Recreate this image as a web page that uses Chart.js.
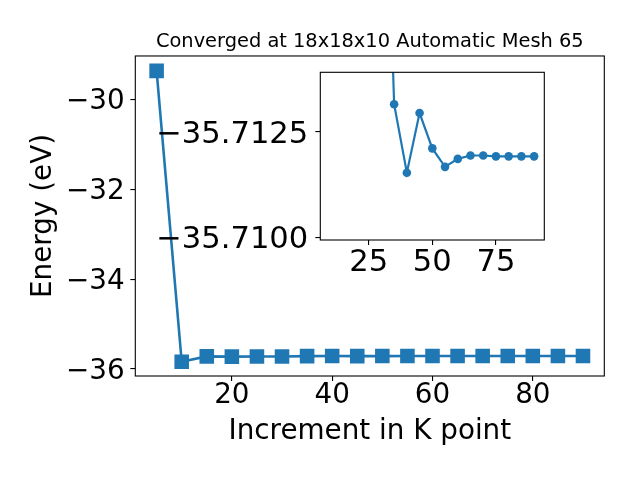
<!DOCTYPE html>
<html>
<head>
<meta charset="utf-8">
<script src="https://cdn.jsdelivr.net/npm/chart.js@4/dist/chart.umd.min.js"></script>
<style>
  html, body { margin: 0; padding: 0; background: #ffffff; }
  #wrap { position: relative; width: 640px; height: 480px; }
  #wrap canvas { position: absolute; left: 0; top: 0; }
</style>
</head>
<body>
<div id="wrap">
  <canvas id="main" width="640" height="480"></canvas>
  <canvas id="inset" width="640" height="480"></canvas>
</div>
<script>
// ---- data ----
const titleText = "Converged at 18x18x10 Automatic Mesh 65";
const xLabel = "Increment in K point";
const yLabel = "Energy (eV)";
const kPoints = [5, 10, 15, 20, 25, 30, 35, 40, 45, 50, 55, 60, 65, 70, 75, 80, 85, 90];
const energy = [-29.371, -35.838, -35.7183, -35.7241, -35.7212, -35.7228, -35.71316, -35.71153,
                -35.71295, -35.71211, -35.71167, -35.71186, -35.71194, -35.71194, -35.71192,
                -35.71192, -35.71192, -35.71192];
const mainXTicks = [20, 40, 60, 80];
const mainYTicks = [-36, -34, -32, -30];
const insetKPoints = kPoints.slice(1);
const insetEnergy = energy.slice(1);
const insetXTicks = [25, 50, 75];
const insetYTicks = [-35.7125, -35.7100];

const BLUE = '#1f77b4';
const FONT = 'DejaVu Sans';
const fmtMinus = (v, d) => (v < 0 ? '\u2212' : '') + Math.abs(v).toFixed(d);

const framePlugin = {
  id: 'frame',
  beforeDraw(chart, args, opts) {
    if (opts.fill) {
      const a = chart.chartArea;
      const ctx = chart.ctx;
      ctx.save();
      ctx.fillStyle = '#ffffff';
      ctx.fillRect(a.left, a.top, a.right - a.left, a.bottom - a.top);
      ctx.restore();
    }
  },
  afterDatasetsDraw(chart) {
    const a = chart.chartArea;
    const ctx = chart.ctx;
    ctx.save();
    ctx.strokeStyle = '#000000';
    ctx.lineWidth = 1.1;
    ctx.strokeRect(a.left, a.top, a.right - a.left, a.bottom - a.top);
    ctx.restore();
  }
};

const titleCenterPlugin = {
  id: 'titleCenter',
  afterLayout(chart) {
    if (chart.titleBlock) {
      chart.titleBlock.left = chart.chartArea.left;
      chart.titleBlock.right = chart.chartArea.right;
    }
  }
};

function axis(ticks, fmt, size, pad, labelOffset, extra) {
  return Object.assign({
    type: 'linear',
    afterBuildTicks: (s) => { s.ticks = ticks.map(v => ({ value: v })); },
    grid: { display: true, drawOnChartArea: false, drawTicks: true, tickLength: 5, color: '#000000', lineWidth: 1.1 },
    border: { display: false },
    ticks: {
      color: '#000000', font: { family: FONT, size: size, lineHeight: 1 },
      padding: pad, labelOffset: labelOffset, maxRotation: 0, autoSkip: false, callback: fmt
    }
  }, extra);
}

// ---- main chart ----
new Chart(document.getElementById('main'), {
  type: 'line',
  data: {
    datasets: [{
      data: kPoints.map((x, i) => ({ x: x, y: energy[i] })),
      borderColor: BLUE,
      backgroundColor: BLUE,
      borderWidth: 2.6,
      pointStyle: 'rect',
      pointRadius: 10.3,
      pointBorderWidth: 0,
      pointBackgroundColor: BLUE,
      tension: 0
    }]
  },
  options: {
    responsive: false,
    animation: false,
    events: [],
    layout: { padding: { left: 0, top: 0, right: 35.7, bottom: 0 } },
    plugins: {
      legend: { display: false },
      tooltip: { enabled: false },
      title: {
        display: true, text: titleText, color: '#000000',
        font: { family: FONT, size: 19.4, weight: 'normal', lineHeight: 1.2 },
        padding: { top: 30.0, bottom: 2.7 }
      },
      frame: { fill: false }
    },
    scales: {
      x: axis(mainXTicks, (v) => fmtMinus(v, 0), 27.8, 1, 0, {
        min: 0.75, max: 94.25,
        afterFit: (s) => { s.height = 104; },
        title: { display: true, text: xLabel, color: '#000000', font: { family: FONT, size: 27.8, lineHeight: 1.2 }, padding: { top: 0, bottom: 31.9 } }
      }),
      y: axis(mainYTicks, (v) => fmtMinus(v, 0), 27.8, 5.6, 2.5, {
        min: -36.155, max: -29.04,
        afterFit: (s) => { s.width = 135.3; },
        title: { display: true, text: yLabel, color: '#000000', font: { family: FONT, size: 27.8, lineHeight: 1.2 }, padding: { top: 27, bottom: 0 } }
      })
    }
  },
  plugins: [framePlugin, titleCenterPlugin]
});

// ---- inset chart ----
new Chart(document.getElementById('inset'), {
  type: 'line',
  data: {
    datasets: [{
      data: insetKPoints.map((x, i) => ({ x: x, y: insetEnergy[i] })),
      borderColor: BLUE,
      backgroundColor: BLUE,
      borderWidth: 2.2,
      pointStyle: 'circle',
      pointRadius: 4.3,
      pointBorderWidth: 0,
      pointBackgroundColor: BLUE,
      tension: 0,
      clip: 0
    }]
  },
  options: {
    responsive: false,
    animation: false,
    events: [],
    layout: { padding: { left: 0, top: 72.3, right: 95.7, bottom: 0 } },
    plugins: {
      legend: { display: false },
      tooltip: { enabled: false },
      title: { display: false },
      frame: { fill: true }
    },
    scales: {
      x: axis(insetXTicks, (v) => fmtMinus(v, 0), 30.6, 2.7, 0, {
        min: 6, max: 94,
        afterFit: (s) => { s.height = 240; }
      }),
      y: axis(insetYTicks, (v) => fmtMinus(v, 4), 30.6, 7, 3, {
        min: -35.71392, max: -35.70993, reverse: true,
        afterFit: (s) => { s.width = 320.3; }
      })
    }
  },
  plugins: [framePlugin]
});
</script>
</body>
</html>
